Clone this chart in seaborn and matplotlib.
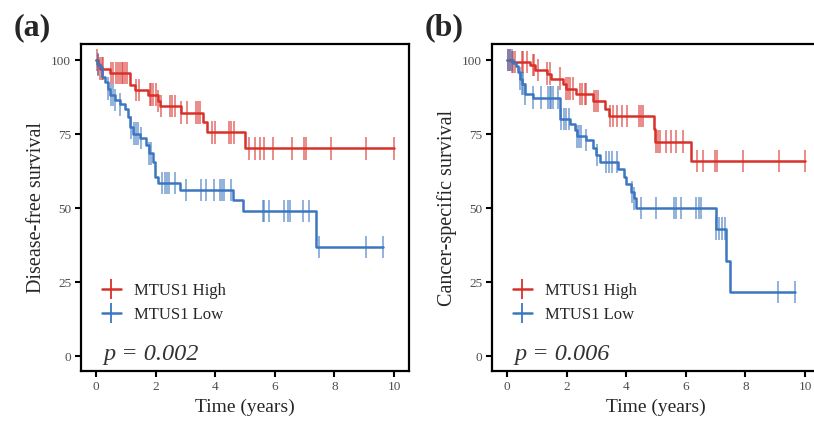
#set up modules
import numpy as np
import pandas as pd
import matplotlib
matplotlib.use("Agg")
import matplotlib.pyplot as plt
from matplotlib.lines import Line2D
import seaborn as sns

#step times / survival (years, %)
a_high_t = [0, 0.08, 0.13, 0.47, 1.14, 1.30, 1.75, 2.08, 2.14, 2.87, 3.59, 3.73, 5.0]
a_high_s = [100, 98.5, 97.2, 95.7, 91.5, 89.9, 88.4, 86.3, 84.6, 82.3, 79.0, 75.6, 70.2]
a_high_cens = [0.02, 0.08, 0.13, 0.19, 0.25, 0.52, 0.58, 0.69, 0.75, 0.80, 0.86, 0.91, 0.97, 1.03,
               1.34, 1.45, 1.81, 1.86, 1.92, 2.01, 2.08, 2.17, 2.50, 2.56, 2.64, 2.87, 3.05,
               3.34, 3.42, 3.50, 3.90, 4.01, 4.45, 4.54, 4.63, 5.15, 5.32, 5.49, 5.65, 5.93,
               6.57, 6.99, 7.05, 7.90, 9.07, 9.98]

a_low_t = [0, 0.05, 0.13, 0.22, 0.30, 0.41, 0.47, 0.64, 0.80, 0.97, 1.08, 1.14, 1.25, 1.47,
           1.69, 1.77, 1.92, 1.97, 2.08, 2.81, 4.59, 4.93, 7.38]
a_low_s = [100, 98.8, 97.7, 94.4, 92.7, 90.4, 88.2, 86.5, 85.1, 83.4, 80.9, 77.3, 75.2, 73.8,
           71.3, 68.5, 65.6, 60.6, 58.6, 56.1, 52.9, 49.1, 36.9]
a_low_cens = [0.08, 0.41, 0.49, 0.58, 0.64, 0.82, 1.19, 1.27, 1.36, 1.42, 1.50, 1.77, 1.84,
              2.23, 2.31, 2.39, 2.45, 2.64, 3.01, 3.53, 3.68, 3.96, 4.15, 4.24, 4.31, 4.54,
              5.60, 5.65, 5.82, 6.32, 6.43, 6.51, 6.96, 7.14, 7.49, 9.05, 9.64]

b_high_t = [0, 0.16, 0.77, 0.94, 1.33, 1.49, 1.88, 1.99, 2.33, 2.89, 3.28, 3.42, 4.92, 4.98, 6.18]
b_high_s = [100, 99.4, 98.3, 96.8, 95.5, 93.8, 92.1, 90.4, 88.5, 86.3, 83.7, 81.2, 76.9, 72.5, 66.0]
b_high_cens = [0.04, 0.10, 0.16, 0.21, 0.27, 0.49, 0.55, 0.68, 0.86, 0.90, 1.05, 1.33, 1.44,
               1.79, 1.99, 2.05, 2.11, 2.20, 2.46, 2.53, 2.61, 2.66, 2.91, 2.98, 3.05, 3.47,
               3.56, 3.69, 3.87, 4.02, 4.43, 4.50, 4.58, 5.01, 5.06, 5.14, 5.34, 5.51, 5.67,
               5.92, 6.37, 6.57, 6.99, 7.04, 7.93, 9.11, 9.98]

b_low_t = [0, 0.21, 0.32, 0.38, 0.44, 0.49, 0.60, 0.86, 1.77, 2.11, 2.27, 2.35, 2.66, 2.89,
           3.0, 3.13, 3.72, 3.92, 3.98, 4.17, 4.25, 4.34, 7.01, 7.35, 7.48]
b_low_s = [100, 99.1, 98.0, 96.0, 93.8, 92.1, 88.7, 87.4, 80.1, 78.6, 76.4, 74.3, 73.0, 70.2,
           67.9, 65.6, 63.4, 60.6, 58.1, 55.5, 53.3, 50.1, 43.1, 32.2, 21.7]
b_low_cens = [0.04, 0.10, 0.16, 0.44, 0.49, 0.55, 0.60, 0.88, 1.16, 1.38, 1.44, 1.49, 1.55,
              1.72, 1.83, 1.91, 1.99, 2.07, 2.35, 2.42, 2.50, 2.66, 3.02, 3.33, 3.42, 3.53,
              3.69, 4.20, 4.25, 4.50, 5.01, 5.62, 5.67, 5.84, 6.34, 6.43, 6.51, 7.01, 7.12,
              7.21, 7.33, 9.08, 9.67]

groups = ["MTUS1 High", "MTUS1 Low"]
colors = {"MTUS1 High": "#D7312A", "MTUS1 Low": "#3C76C0"}
ylabels = ["Disease-free survival", "Cancer-specific survival"]
pvals = ["p = 0.002", "p = 0.006"]
letters = ["(a)", "(b)"]

panels = [
    [(a_high_t, a_high_s, a_high_cens), (a_low_t, a_low_s, a_low_cens)],
    [(b_high_t, b_high_s, b_high_cens), (b_low_t, b_low_s, b_low_cens)],
]


def build_frames(curves):
    lines, marks = [], []
    for g, (t, s, c) in zip(groups, curves):
        t = list(t) + [max(c)]
        s = list(s) + [s[-1]]
        lines.append(pd.DataFrame({"time": t, "surv": s, "group": g}))
        # survival level at each censor time
        idx = np.searchsorted(np.array(t), np.array(c), side="right") - 1
        marks.append(pd.DataFrame({"time": c, "surv": np.array(s)[idx], "group": g}))
    return pd.concat(lines), pd.concat(marks)


sns.set_style("white")
plt.rcParams["font.family"] = ["Liberation Serif", "DejaVu Serif"]

fig = plt.figure(figsize=(8.14, 4.21), dpi=100)
positions = [[0.0995, 0.1188, 0.403, 0.7767], [0.6044, 0.1188, 0.403, 0.7767]]
letter_x = [14, 425]

for i, curves in enumerate(panels):
    ax = fig.add_axes(positions[i])
    lines_df, marks_df = build_frames(curves)
    sns.lineplot(data=lines_df, x="time", y="surv", hue="group", palette=colors,
                 drawstyle="steps-post", estimator=None, sort=False,
                 linewidth=1.8, legend=False, ax=ax)
    sns.scatterplot(data=marks_df, x="time", y="surv", hue="group", palette=colors,
                    marker="|", s=260, linewidth=1.3, alpha=0.6, legend=False, ax=ax)

    ax.set_xlim(-0.5, 10.5)
    ax.set_ylim(-5, 105.5)
    ax.set_xticks(np.arange(0, 11, 2))
    ax.set_yticks([0, 25, 50, 75, 100])
    ax.tick_params(axis="both", direction="out", length=4, width=1.5,
                   bottom=True, left=True,
                   labelsize=9.5, labelcolor="#4D4D4D", color="black", pad=3)
    for sp in ax.spines.values():
        sp.set_linewidth(1.6)
        sp.set_color("black")
    ax.set_xlabel("Time (years)", fontsize=14, labelpad=4)
    ax.set_ylabel(ylabels[i], fontsize=14.5, labelpad=4)

    handles = [Line2D([0], [0], color=colors[g], marker="|", markersize=14,
                      markeredgewidth=1.3, linewidth=1.8) for g in groups]
    ax.legend(handles, groups, loc="upper left", bbox_to_anchor=(0.065, 0.27),
              frameon=False, fontsize=12, handlelength=1.1, handletextpad=0.8,
              labelspacing=0.5, borderpad=0, borderaxespad=0)
    ax.text(0.068, 0.035, pvals[i], transform=ax.transAxes, fontsize=17.5,
            style="italic", color="#333333", va="baseline")
    fig.text(letter_x[i] / 814, 1 - 28 / 421, letters[i], fontsize=23,
             fontweight="bold", va="center", ha="left")

plt.savefig("out.png", dpi=100)
